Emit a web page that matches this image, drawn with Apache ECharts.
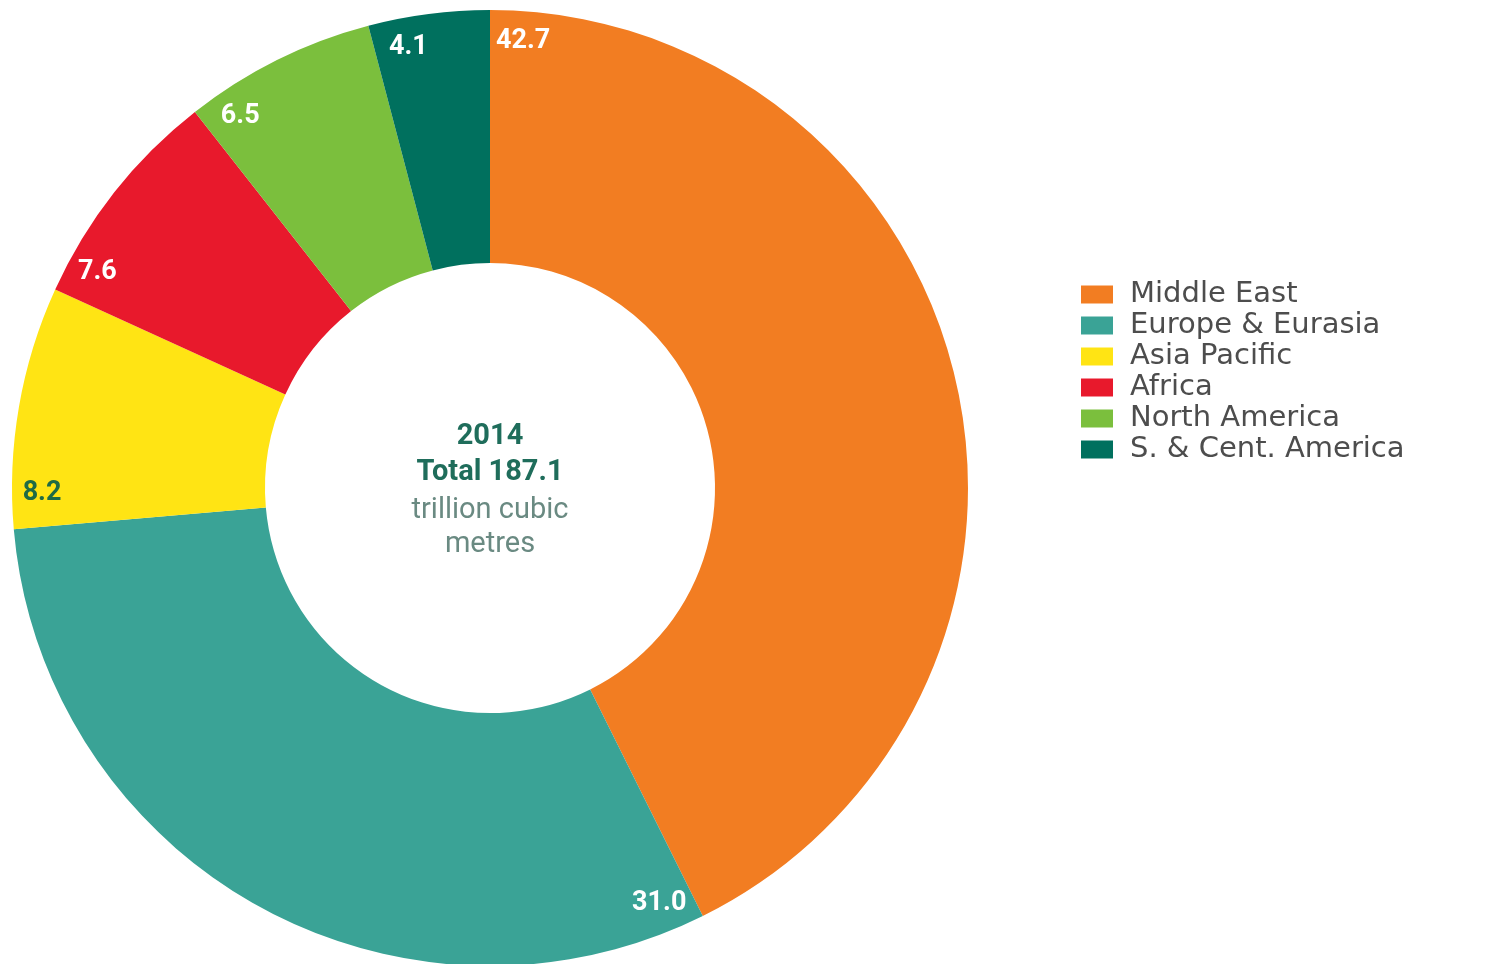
<!DOCTYPE html>
<html>
<head>
<meta charset="utf-8">
<title>Proved natural gas reserves 2014</title>
<script src="https://cdn.jsdelivr.net/npm/echarts@6/dist/echarts.min.js"></script>
<style>
  html, body { margin: 0; padding: 0; background: #ffffff; }
  #chart { width: 1496px; height: 964px; }
</style>
</head>
<body>
<div id="chart"></div>
<script>
// Share of proved gas reserves by region, 2014 (per cent of world total)
const regions = ['Middle East', 'Europe & Eurasia', 'Asia Pacific', 'Africa', 'North America', 'S. & Cent. America'];
const shares = [42.7, 31.0, 8.2, 7.6, 6.5, 4.1];
const regionColors = ['#F27D22', '#3AA396', '#FFE414', '#E8192C', '#7BBF3D', '#00705E'];
const labelColors = ['#ffffff', '#ffffff', '#1F6B45', '#ffffff', '#ffffff', '#ffffff'];
const centreLines = ['2014', 'Total 187.1', 'trillion cubic', 'metres'];

const CX = 490, CY = 488, R_IN = 225, R_OUT = 478;
const LABEL_R = 448;          // radius at which value labels sit
const LABEL_SHIFT = 0.074;    // radians past the start edge of each slice

const total = shares.reduce((a, b) => a + b, 0);
const startFrac = [];
shares.reduce((acc, v) => { startFrac.push(acc / total); return acc + v; }, 0);

const chart = echarts.init(document.getElementById('chart'), null, { renderer: 'canvas' });

chart.setOption({
  animation: false,
  color: regionColors,
  legend: {
    orient: 'vertical',
    left: 1076,
    top: 274,
    itemWidth: 32,
    itemHeight: 18,
    itemGap: 0,
    icon: 'rect',
    selectedMode: false,
    data: regions,
    textStyle: {
      fontFamily: 'DejaVu Sans, sans-serif',
      fontSize: 29,
      color: '#4d4d4d',
      lineHeight: 31,
      padding: [0, 0, 0, 12]
    }
  },
  graphic: centreLines.map((t, i) => ({
    type: 'text',
    x: CX,
    y: [437, 473, 511, 545][i],
    silent: true,
    style: {
      text: t,
      textAlign: 'center',
      textVerticalAlign: 'middle',
      fontFamily: 'Roboto, sans-serif',
      fontSize: 29,
      fontWeight: i < 2 ? 'bold' : 'normal',
      fill: i < 2 ? '#1F6D5B' : '#6A8A82'
    }
  })),
  series: [{
    type: 'pie',
    center: [CX, CY],
    radius: [R_IN, R_OUT],
    startAngle: 90,
    clockwise: true,
    silent: true,
    avoidLabelOverlap: false,
    data: regions.map((name, i) => ({
      name,
      value: shares[i],
      label: { color: labelColors[i] }
    })),
    label: {
      show: true,
      position: 'inside',
      formatter: p => p.value.toFixed(1),
      fontFamily: 'Roboto, sans-serif',
      fontWeight: 'bold',
      fontSize: 27
    },
    labelLine: { show: false },
    labelLayout: function (params) {
      const a = startFrac[params.dataIndex] * Math.PI * 2 + LABEL_SHIFT;
      return {
        x: CX + LABEL_R * Math.sin(a),
        y: CY - LABEL_R * Math.cos(a),
        align: 'center',
        verticalAlign: 'middle'
      };
    }
  }]
});
</script>
</body>
</html>
